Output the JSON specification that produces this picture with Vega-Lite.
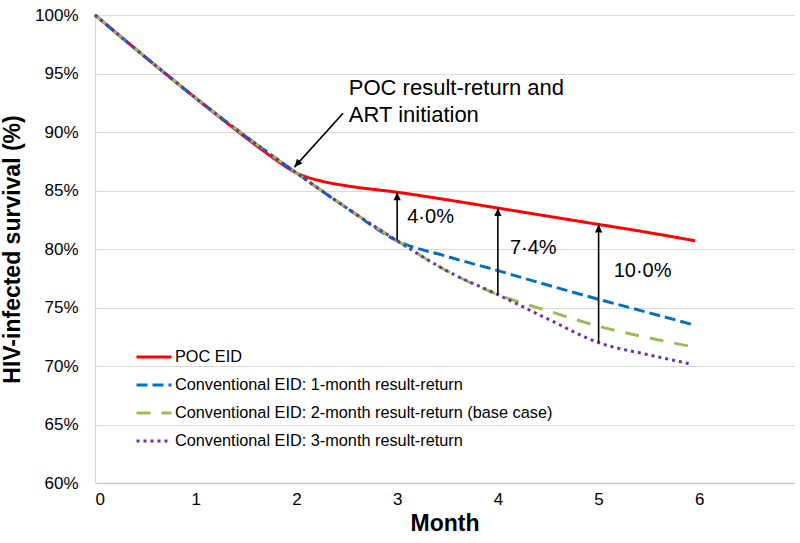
{
  "$schema": "https://vega.github.io/schema/vega-lite/v6.json",
  "width": 699,
  "height": 468,
  "autosize": {"type": "none"},
  "padding": {"left": 95, "top": 15, "right": 6, "bottom": 60},
  "background": "white",
  "config": {
    "view": {"stroke": null},
    "font": "Liberation Sans",
    "axis": {"labelFont": "Liberation Sans", "labelFontSize": 17, "labelColor": "#000000", "titleFont": "Liberation Sans", "titleFontSize": 23, "titleFontWeight": "bold", "titleColor": "#000000", "ticks": false},
    "legend": {"orient": "none", "legendX": 40, "legendY": 323, "padding": 0, "labelFont": "Liberation Sans", "labelFontSize": 16.3, "labelColor": "#000000", "labelOffset": 2, "labelLimit": 0, "symbolType": "stroke", "symbolSize": 1225, "symbolStrokeWidth": 3, "rowPadding": -5, "title": null}
  },
  "datasets": {
    "curves": [
      {"series": "POC EID", "month": 0, "value": 100},
      {"series": "POC EID", "month": 0.5, "value": 96.4},
      {"series": "POC EID", "month": 1, "value": 92.9},
      {"series": "POC EID", "month": 1.5, "value": 89.5},
      {"series": "POC EID", "month": 1.75, "value": 87.9},
      {"series": "POC EID", "month": 2, "value": 86.5},
      {"series": "POC EID", "month": 2.25, "value": 85.8},
      {"series": "POC EID", "month": 2.5, "value": 85.4},
      {"series": "POC EID", "month": 3, "value": 84.85},
      {"series": "POC EID", "month": 3.5, "value": 84.2},
      {"series": "POC EID", "month": 4, "value": 83.5},
      {"series": "POC EID", "month": 4.5, "value": 82.8},
      {"series": "POC EID", "month": 5, "value": 82.1},
      {"series": "POC EID", "month": 5.5, "value": 81.4},
      {"series": "POC EID", "month": 5.96, "value": 80.7},
      {"series": "Conventional EID: 1-month result-return", "month": 0, "value": 100},
      {"series": "Conventional EID: 1-month result-return", "month": 0.5, "value": 96.4},
      {"series": "Conventional EID: 1-month result-return", "month": 1, "value": 92.9},
      {"series": "Conventional EID: 1-month result-return", "month": 1.5, "value": 89.6},
      {"series": "Conventional EID: 1-month result-return", "month": 2, "value": 86.5},
      {"series": "Conventional EID: 1-month result-return", "month": 2.5, "value": 83.5},
      {"series": "Conventional EID: 1-month result-return", "month": 3, "value": 80.7},
      {"series": "Conventional EID: 1-month result-return", "month": 3.5, "value": 79.35},
      {"series": "Conventional EID: 1-month result-return", "month": 4, "value": 78.15},
      {"series": "Conventional EID: 1-month result-return", "month": 4.5, "value": 76.9},
      {"series": "Conventional EID: 1-month result-return", "month": 5, "value": 75.7},
      {"series": "Conventional EID: 1-month result-return", "month": 5.5, "value": 74.55},
      {"series": "Conventional EID: 1-month result-return", "month": 5.95, "value": 73.5},
      {"series": "Conventional EID: 2-month result-return (base case)", "month": 0, "value": 100},
      {"series": "Conventional EID: 2-month result-return (base case)", "month": 0.5, "value": 96.4},
      {"series": "Conventional EID: 2-month result-return (base case)", "month": 1, "value": 92.9},
      {"series": "Conventional EID: 2-month result-return (base case)", "month": 1.5, "value": 89.6},
      {"series": "Conventional EID: 2-month result-return (base case)", "month": 2, "value": 86.5},
      {"series": "Conventional EID: 2-month result-return (base case)", "month": 2.5, "value": 83.5},
      {"series": "Conventional EID: 2-month result-return (base case)", "month": 3, "value": 80.7},
      {"series": "Conventional EID: 2-month result-return (base case)", "month": 3.5, "value": 78.1},
      {"series": "Conventional EID: 2-month result-return (base case)", "month": 4, "value": 76.1},
      {"series": "Conventional EID: 2-month result-return (base case)", "month": 4.5, "value": 74.7},
      {"series": "Conventional EID: 2-month result-return (base case)", "month": 5, "value": 73.4},
      {"series": "Conventional EID: 2-month result-return (base case)", "month": 5.5, "value": 72.4},
      {"series": "Conventional EID: 2-month result-return (base case)", "month": 5.9, "value": 71.7},
      {"series": "Conventional EID: 3-month result-return", "month": 0, "value": 100},
      {"series": "Conventional EID: 3-month result-return", "month": 0.5, "value": 96.4},
      {"series": "Conventional EID: 3-month result-return", "month": 1, "value": 92.9},
      {"series": "Conventional EID: 3-month result-return", "month": 1.5, "value": 89.6},
      {"series": "Conventional EID: 3-month result-return", "month": 2, "value": 86.5},
      {"series": "Conventional EID: 3-month result-return", "month": 2.5, "value": 83.5},
      {"series": "Conventional EID: 3-month result-return", "month": 3, "value": 80.7},
      {"series": "Conventional EID: 3-month result-return", "month": 3.5, "value": 78.1},
      {"series": "Conventional EID: 3-month result-return", "month": 4, "value": 76.1},
      {"series": "Conventional EID: 3-month result-return", "month": 4.5, "value": 74.0},
      {"series": "Conventional EID: 3-month result-return", "month": 5, "value": 72.0},
      {"series": "Conventional EID: 3-month result-return", "month": 5.5, "value": 70.95},
      {"series": "Conventional EID: 3-month result-return", "month": 5.9, "value": 70.2}
    ],
    "gaps": [
      {"month": 3, "low": 80.7, "high": 84.85, "label": "4·0%", "lx": 3.1, "ly": 82.75},
      {"month": 4, "low": 76.1, "high": 83.5, "label": "7·4%", "lx": 4.12, "ly": 80.1},
      {"month": 5, "low": 72.0, "high": 82.1, "label": "10·0%", "lx": 5.15, "ly": 78.1}
    ],
    "note": [
      {"x1": 2.463, "y1": 91.6, "x2": 1.98, "y2": 87.0, "tx": 2.52, "ty": 93.2, "angle": 221.6, "text": ["POC result-return and", "ART initiation"]}
    ]
  },
  "layer": [
    {
      "data": {"name": "curves"},
      "mark": {"type": "line", "strokeWidth": 3, "interpolate": "monotone"},
      "encoding": {
        "x": {"field": "month", "type": "quantitative", "scale": {"domain": [0, 6.94], "nice": false}, "axis": {"values": [0, 1, 2, 3, 4, 5, 6], "format": "d", "grid": false, "domainColor": "#c8c8c8", "domainWidth": 1.5, "labelPadding": 8, "title": "Month", "titlePadding": 5}},
        "y": {"field": "value", "type": "quantitative", "scale": {"domain": [60, 100], "nice": false, "zero": false}, "axis": {"values": [60, 65, 70, 75, 80, 85, 90, 95, 100], "labelExpr": "datum.value + '%'", "grid": true, "gridColor": "#d9d9d9", "gridWidth": 1.2, "domainColor": "#d9d9d9", "domainWidth": 1.2, "labelPadding": 17, "title": "HIV-infected survival (%)", "titlePadding": 10}},
        "color": {"field": "series", "type": "nominal", "scale": {"domain": ["POC EID", "Conventional EID: 1-month result-return", "Conventional EID: 2-month result-return (base case)", "Conventional EID: 3-month result-return"], "range": ["#FF0000", "#0070C0", "#9BBB59", "#7030A0"]}, "legend": {"title": null}},
        "strokeDash": {"field": "series", "type": "nominal", "scale": {"domain": ["POC EID", "Conventional EID: 1-month result-return", "Conventional EID: 2-month result-return (base case)", "Conventional EID: 3-month result-return"], "range": [[1, 0], [11, 5], [14, 11], [3, 4]]}, "legend": {"title": null}},
        "order": {"field": "month"}
      }
    },
    {
      "data": {"name": "gaps"},
      "mark": {"type": "rule", "color": "#000000", "strokeWidth": 1.6},
      "encoding": {
        "x": {"field": "month", "type": "quantitative"},
        "y": {"field": "low", "type": "quantitative"},
        "y2": {"field": "high"}
      }
    },
    {
      "data": {"name": "gaps"},
      "mark": {"type": "point", "shape": "M0,0 L-0.5,1.1 L0.5,1.1 Z", "size": 210, "filled": true, "color": "#000000", "opacity": 1},
      "encoding": {
        "x": {"field": "month", "type": "quantitative"},
        "y": {"field": "high", "type": "quantitative"}
      }
    },
    {
      "data": {"name": "gaps"},
      "mark": {"type": "text", "align": "left", "baseline": "middle", "fontSize": 20, "font": "Liberation Sans", "color": "#000000"},
      "encoding": {
        "x": {"field": "lx", "type": "quantitative"},
        "y": {"field": "ly", "type": "quantitative"},
        "text": {"field": "label"}
      }
    },
    {
      "data": {"name": "note"},
      "mark": {"type": "rule", "color": "#000000", "strokeWidth": 1.6},
      "encoding": {
        "x": {"field": "x1", "type": "quantitative"},
        "y": {"field": "y1", "type": "quantitative"},
        "x2": {"field": "x2"},
        "y2": {"field": "y2"}
      }
    },
    {
      "data": {"name": "note"},
      "mark": {"type": "point", "shape": "M0,0 L-0.5,1.1 L0.5,1.1 Z", "size": 210, "filled": true, "color": "#000000", "opacity": 1},
      "encoding": {
        "x": {"field": "x2", "type": "quantitative"},
        "y": {"field": "y2", "type": "quantitative"},
        "angle": {"field": "angle", "type": "quantitative", "scale": null}
      }
    },
    {
      "data": {"name": "note"},
      "mark": {"type": "text", "align": "left", "baseline": "alphabetic", "fontSize": 22, "lineHeight": 27, "font": "Liberation Sans", "color": "#000000"},
      "encoding": {
        "x": {"field": "tx", "type": "quantitative"},
        "y": {"field": "ty", "type": "quantitative"},
        "text": {"field": "text"}
      }
    }
  ]
}
